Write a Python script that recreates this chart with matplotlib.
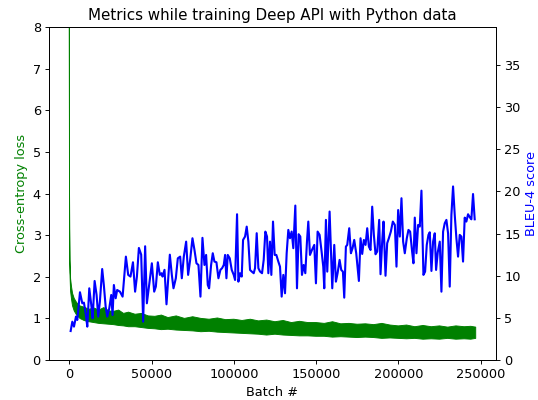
import matplotlib
matplotlib.use('Agg')
import matplotlib.pyplot as plt

plt.rcParams['font.size'] = 11

loss_batch = [0, 150, 400, 800, 1400, 2000, 3000, 4500, 6500, 9000, 12000, 15000,
              18000, 21000, 24000, 27000, 30000, 33000, 36000, 40000, 44000, 48000,
              52000, 56000, 60000, 65000, 70000, 75000, 80000, 85000, 90000, 95000,
              100000, 105000, 110000, 115000, 120000, 125000, 130000, 135000, 140000,
              145000, 150000, 155000, 160000, 165000, 170000, 175000, 180000, 185000,
              190000, 195000, 200000, 205000, 210000, 215000, 220000, 225000, 230000,
              235000, 240000, 244000, 247000]
loss_upper = [10.5, 4.0, 2.4, 1.95, 1.75, 1.6, 1.48, 1.38, 1.3, 1.27, 1.22, 1.25,
              1.2, 1.26, 1.18, 1.17, 1.2, 1.12, 1.15, 1.1, 1.12, 1.06,
              1.05, 1.08, 1.02, 1.06, 1.0, 1.04, 1.0, 0.98, 1.01, 0.97,
              0.98, 0.95, 0.98, 0.94, 0.96, 0.92, 0.95, 0.9, 0.93,
              0.9, 0.9, 0.88, 0.92, 0.87, 0.88, 0.86, 0.87, 0.85,
              0.88, 0.84, 0.82, 0.84, 0.8, 0.83, 0.8, 0.82, 0.79,
              0.82, 0.8, 0.81, 0.79]
loss_lower = [9.0, 3.2, 2.1, 1.65, 1.45, 1.3, 1.18, 1.08, 1.0, 0.95, 0.92, 0.9,
              0.88, 0.87, 0.86, 0.85, 0.83, 0.82, 0.8, 0.8, 0.78, 0.76,
              0.75, 0.73, 0.74, 0.72, 0.71, 0.7, 0.68, 0.69, 0.67, 0.66,
              0.65, 0.64, 0.63, 0.62, 0.6, 0.62, 0.6, 0.59, 0.58,
              0.58, 0.57, 0.57, 0.55, 0.56, 0.55, 0.54, 0.55, 0.54,
              0.52, 0.53, 0.52, 0.51, 0.52, 0.5, 0.51, 0.5, 0.52,
              0.5, 0.51, 0.5, 0.52]

# BLEU-4 score at evaluation points
bleu_batch = [830, 1840, 2850, 4070, 4870, 6500, 7900, 8900, 10100, 10940, 12150,
              13370, 14200, 15400, 16600, 17600, 18600, 20000, 21000, 22100, 23100,
              24300, 25500, 26300, 27100, 28200, 29100, 30800, 32400, 34400, 35800,
              37200, 38700, 40000, 41100, 42300, 43700, 44900, 46100,
              47150, 50180, 51600, 52610, 53820, 55040, 56050, 56660, 57870, 59080,
              61110, 62320, 63330, 64750, 65960, 67380, 68390, 69600, 71020, 72230,
              73450, 74860, 76080, 77290, 78500, 79720, 80930, 82150, 83160, 84170,
              84980, 86190, 87200, 88210, 89430, 90640, 91850, 92870, 93880, 94690,
              95500, 96310, 97520,
              98730, 99940, 100750, 101960, 102770, 103790, 104800, 105610, 106820,
              107830, 108840, 109850, 110870, 112080, 112890, 113900, 114910, 115920,
              117140, 118150, 119160, 120170, 120980, 121990, 122800, 123810, 124820,
              125840, 127050, 128060, 129070, 130080, 131100, 132110, 133120, 134130,
              135140, 136150, 137370, 138380, 139390, 140400, 141410, 142420, 143440,
              144450, 145260, 146270, 147480,
              148890, 149900, 150910, 152130, 153340, 154350, 154960, 155970, 156780,
              158200, 159010, 159820, 161030, 162040, 163050, 164270, 165280, 166290,
              167100, 168110, 168920, 170130, 171150, 172160, 173170, 174380, 176000,
              177010, 178020, 179030, 180050, 181060, 182070, 183080, 184090, 185100,
              186120, 187130, 188340, 189150, 190160, 190970, 192180, 193200, 194210,
              195420, 196630, 197850,
              198850, 199860, 200870, 201880, 202890, 203900, 205120, 206130, 207140,
              208350, 209160, 209970, 210980, 211990, 213000, 214020, 215230, 216240,
              217250, 218270, 219080, 220090, 221100, 222110, 222920, 223930, 225150,
              226160, 227170, 228180, 229190, 230200, 231210, 232220, 233230, 234250,
              235260, 236270, 237280, 238290, 239300, 240310, 241320, 242340, 243550,
              244360, 245370, 246380]
bleu_score = [3.44, 4.55, 3.96, 5.15, 4.75, 8.04, 6.73, 6.81, 5.34, 3.96, 8.51,
              6.53, 4.95, 9.38, 7.72, 5.15, 6.93, 10.8, 8.9, 6.33, 5.15,
              6.14, 7.72, 5.34, 8.9, 7.33, 8.31, 8.11, 7.52, 12.27, 10.1,
              9.9, 11.6, 8.11, 9.9, 13.3, 12.5, 4.55, 13.5,
              6.73, 11.48, 8.11, 8.71, 11.6, 10.1, 10.3, 9.9, 10.7, 6.61,
              12.5, 10.1, 8.51, 9.7, 12.07, 12.27, 9.7, 12.27, 14.05, 10.1,
              11.88, 14.45, 13.06, 11.48, 11.28, 7.52, 14.5, 11.28, 12.47, 8.9,
              8.51, 11.28, 12.67, 11.68, 11.6, 9.7, 10.7, 10.9, 11.28, 12.47,
              9.7, 12.47, 12.07,
              10.69, 10.1, 9.5, 17.3, 9.3, 10.3, 9.9, 14.25, 14.65,
              15.83, 14.05, 10.69, 10.5, 10.3, 10.9, 15.05, 10.9, 10.5,
              10.3, 11.88, 15.24, 14.65, 10.3, 14.05, 10.1, 16.43, 12.47,
              12.47, 11.68, 11.08, 7.52, 10.1, 7.92, 12.67, 15.44, 14.45,
              15.24, 13.27, 18.33, 8.51, 14.93, 14.65, 10.1, 11.28, 10.3,
              14.05, 16.43, 12.47, 13.06,
              13.66, 9.1, 15.24, 14.85, 12.87, 11.08, 8.51, 16.63, 10.49,
              17.62, 12.87, 8.51, 13.66, 9.3, 10.3, 11.88, 10.69, 10.49,
              7.4, 13.46, 13.66, 15.64, 12.67, 13.27, 14.25, 12.67, 9.38,
              14.45, 12.59, 14.25, 13.66, 15.64, 13.46, 13.06, 18.2, 14.85,
              12.55, 12.87, 16.63, 10.18, 14.05, 16.43, 10.0, 13.86, 14.45,
              15.24, 16.43, 16.03,
              11.08, 17.8, 14.65, 19.2, 14.05, 12.67, 14.45, 15.44, 15.24,
              12.87, 11.48, 16.9, 12.67, 16.03, 15.83, 20.1, 10.1, 10.49,
              13.66, 14.85, 15.16, 10.57, 14.05, 15.04, 10.69, 12.79, 14.05,
              8.11, 15.24, 16.23, 16.63, 15.04, 8.71, 17.22, 20.6, 17.22,
              14.45, 12.27, 14.85, 14.65, 11.68, 16.9, 16.43, 17.3, 16.9,
              16.7, 19.7, 16.7]

fig, ax1 = plt.subplots(figsize=(538 / 84, 400 / 84), dpi=84)

ax1.fill_between(loss_batch, loss_lower, loss_upper, color='green', linewidth=0.8)
ax1.set_ylim(0, 8)
ax1.set_xlabel('Batch #')
ax1.set_ylabel('Cross-entropy loss', color='green')
ax1.set_title('Metrics while training Deep API with Python data', fontsize=13)

ax2 = ax1.twinx()
ax2.plot(bleu_batch, bleu_score, color='blue', linewidth=1.8)
ax2.set_ylim(0, 39.5)
ax2.set_ylabel('BLEU-4 score', color='blue')

ax1.set_xlim(-12350, 259350)

plt.subplots_adjust(left=0.091, right=0.922, bottom=0.1, top=0.932)
plt.savefig('out.png', dpi=84)
